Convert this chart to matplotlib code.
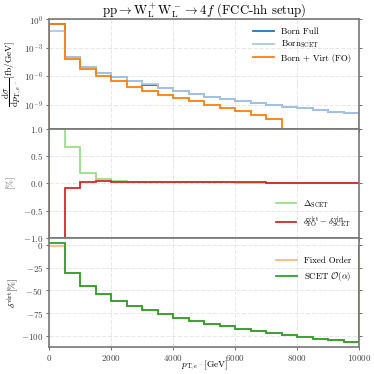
import numpy as np
import matplotlib
matplotlib.use("Agg")
import matplotlib.pyplot as plt
from matplotlib.ticker import FixedLocator, LogFormatterMathtext, NullLocator

plt.rcParams['font.family'] = ['cmr10', 'DejaVu Serif']
plt.rcParams['mathtext.fontset'] = 'cm'
plt.rcParams['axes.formatter.use_mathtext'] = True
plt.rcParams['axes.unicode_minus'] = True

# ---- data ----
edges = np.arange(0, 10001, 500)
edges_fo = np.arange(0, 8001, 500)

log_born_scet = [-1.2, -3.99, -4.98, -5.61, -6.07, -6.46, -6.85, -7.24, -7.55, -7.80,
                 -8.12, -8.40, -8.61, -8.82, -9.00, -9.18, -9.35, -9.53, -9.71, -9.88]
log_born_full = [-0.485, -4.00, -4.985, -5.615, -6.072, -6.461, -6.851, -7.241, -7.551, -7.801,
                 -8.121, -8.401, -8.611, -8.821, -9.001, -9.181, -9.351, -9.531, -9.711, -9.881]
log_born_virt = [-0.49, -4.13, -5.26, -5.97, -6.53, -7.09, -7.52, -7.91, -8.29, -8.61,
                 -9.00, -9.32, -9.67, -10.10, -10.45, -11.5]

delta_scet = [1.5, 0.655, 0.19, 0.085, 0.04, 0.025, 0.02, 0.018, 0.017, 0.016,
              0.015, 0.014, 0.013, 0.012, 0.011, 0.010, 0.009, 0.008, 0.007, 0.006]
delta_virt_diff = [-1.5, -0.08, 0.025, 0.035, 0.03, 0.028, 0.026, 0.024, 0.022, 0.020,
                   0.018, 0.017, 0.015, 0.014, 0.012, 0.011, 0.010, 0.008, 0.007, 0.006]

virt_fo = [-1.1, -30.3, -44.7, -54.2, -61.3, -66.8, -72.0, -76.0, -80.0, -84.1,
           -87.1, -89.7, -92.6, -95.2, -97.4, -99.3, -101.5, -103.7, -105.2, -107.0]
virt_scet = [1.8, -30.3, -44.7, -54.2, -61.3, -66.8, -72.0, -76.0, -80.0, -84.1,
             -87.1, -89.7, -92.6, -95.2, -97.4, -99.3, -101.5, -103.7, -105.2, -107.0]

xticks = [0, 2000, 4000, 6000, 8000, 10000]

# ---- figure ----
fig = plt.figure(figsize=(3.74, 3.74), dpi=100)
gs = fig.add_gridspec(3, 1, left=0.132, right=0.96, top=0.948, bottom=0.072, hspace=0)
ax1 = fig.add_subplot(gs[0])
ax2 = fig.add_subplot(gs[1], sharex=ax1)
ax3 = fig.add_subplot(gs[2], sharex=ax1)

lw = 1.3
fs_leg = 6.4
fs_lab = 6.8
ax1.stairs(10 ** np.array(log_born_full), edges, color='#1f77b4', lw=lw, label='Born Full')
ax1.stairs(10 ** np.array(log_born_scet), edges, color='#aec7e8', lw=lw, label=r'Born$_{\mathrm{SCET}}$')
ax1.stairs(10 ** np.array(log_born_virt), edges_fo, color='#ff7f0e', lw=lw, label='Born + Virt (FO)')
ax1.set_yscale('log')
ax1.set_ylim(10 ** -11.5, 1)
ax1.yaxis.set_major_locator(FixedLocator([1e0, 1e-3, 1e-6, 1e-9]))
ax1.yaxis.set_major_formatter(LogFormatterMathtext())
ax1.yaxis.set_minor_locator(NullLocator())
ax1.set_ylabel(r'$\dfrac{\mathrm{d}\sigma}{\mathrm{d}p_{\mathrm{T},e^-}}[\mathrm{fb/GeV}]$', fontsize=fs_lab)
ax1.yaxis.set_label_coords(-0.082, 0.5)
ax1.set_title(r'$\mathrm{pp}\rightarrow\mathrm{W}^+_\mathrm{L}\mathrm{W}^-_\mathrm{L}\rightarrow 4f$ (FCC-hh setup)',
              fontsize=9.2, pad=4)
ax1.legend(loc='upper right', frameon=False, fontsize=fs_leg, handlelength=2.3, labelspacing=0.35)

ax2.stairs(delta_scet, edges, color='#98df8a', lw=lw, label=r'$\Delta_{\mathrm{SCET}}$')
ax2.stairs(delta_virt_diff, edges, color='#d62728', lw=lw,
           label=r'$\delta^{\mathrm{virt}}_{\mathrm{FO}}-\delta^{\mathrm{virt}}_{\mathrm{SCET}}$')
ax2.set_ylim(-1, 1)
ax2.set_yticks([-1.0, -0.5, 0.0, 0.5, 1.0])
ax2.set_ylabel(r'$[\%]$', fontsize=fs_lab, color='#555555')
ax2.yaxis.set_label_coords(-0.1, 0.5)
ax2.legend(loc='lower right', frameon=False, fontsize=fs_leg, handlelength=2.3, labelspacing=0.5)

ax3.stairs(virt_fo, edges, color='#ffbb78', lw=lw, label='Fixed Order')
ax3.stairs(virt_scet, edges, color='#2ca02c', lw=lw, label=r'SCET $\mathcal{O}(\alpha)$')
ax3.set_ylim(-112.5, 8)
ax3.set_yticks([0, -25, -50, -75, -100])
ax3.set_ylabel(r'$\delta^{\mathrm{virt}}[\%]$', fontsize=fs_lab)
ax3.yaxis.set_label_coords(-0.09, 0.5)
ax3.set_xlabel(r'$p_{\mathrm{T},e^-}[\mathrm{GeV}]$', fontsize=fs_lab)
ax3.xaxis.set_label_coords(0.5, -0.1)
ax3.legend(loc='upper right', bbox_to_anchor=(1.0, 0.9), frameon=False, fontsize=fs_leg,
           handlelength=2.3, labelspacing=0.5)

ax1.set_xlim(0, 10000)
ax3.set_xticks(xticks)

for ax in (ax1, ax2, ax3):
    ax.grid(True, color='#e3e3e3', lw=0.6, ls=(0, (5, 2)))
    ax.set_axisbelow(True)
    for s in ax.spines.values():
        s.set_color('#777777')
        s.set_linewidth(1.2)
    ax.tick_params(labelsize=6.5, length=2.5, width=0.6, color='#555555', labelcolor='#444444',
                   right=True, top=False, pad=2)
for ax in (ax1, ax2):
    ax.tick_params(labelbottom=False)

fig.savefig('out.png', dpi=100)
